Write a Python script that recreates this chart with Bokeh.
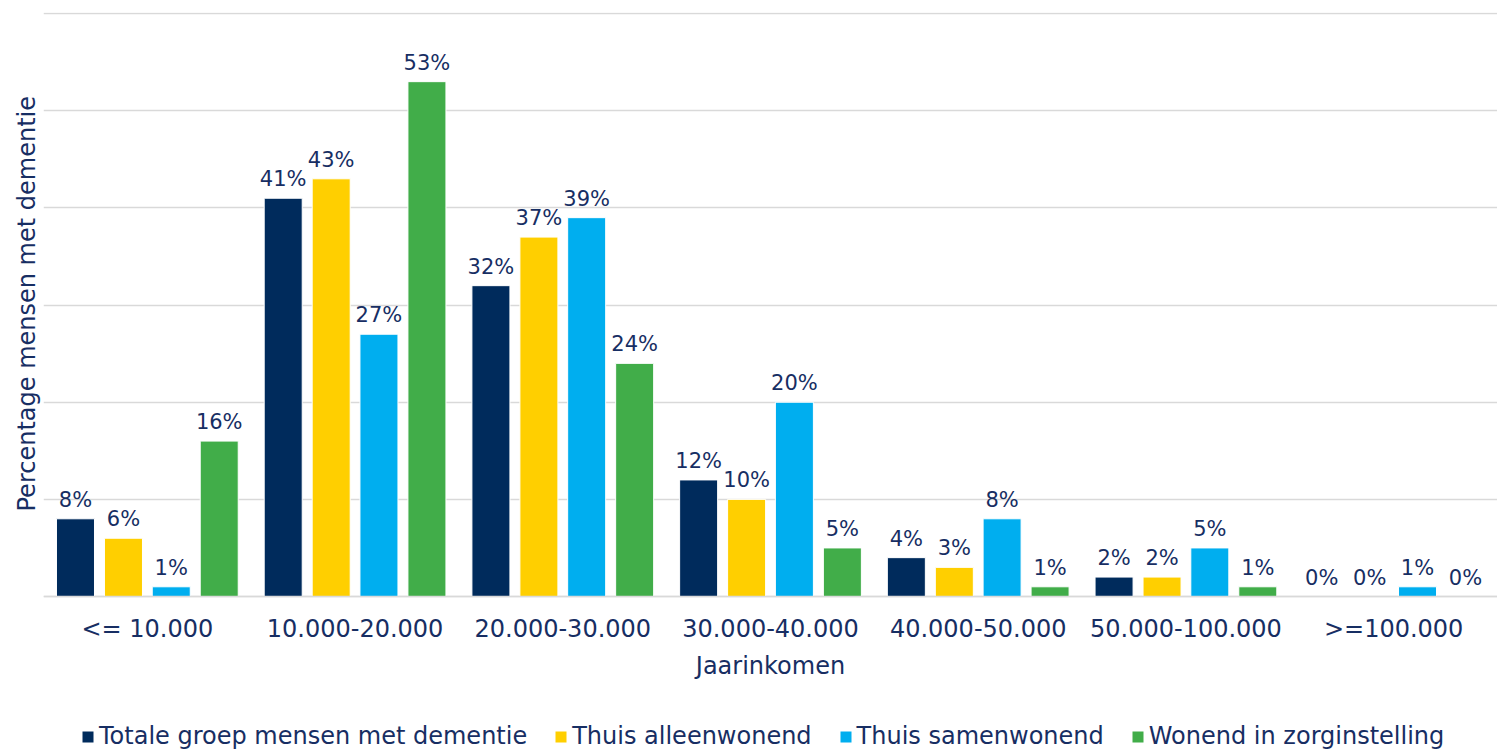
from bokeh.plotting import figure
from bokeh.models import ColumnDataSource, FactorRange, Range1d, Legend, LegendItem, LabelSet, Title
from bokeh.transform import dodge
from bokeh.core.properties import value
from bokeh.embed import file_html
from bokeh.resources import INLINE

categories = ["<= 10.000", "10.000-20.000", "20.000-30.000", "30.000-40.000",
              "40.000-50.000", "50.000-100.000", ">=100.000"]
series_names = ["Totale groep mensen met dementie", "Thuis alleenwonend",
                "Thuis samenwonend", "Wonend in zorginstelling"]
totaal = [8, 41, 32, 12, 4, 2, 0]
alleen = [6, 43, 37, 10, 3, 2, 0]
samen = [1, 27, 39, 20, 8, 5, 1]
zorg = [16, 53, 24, 5, 1, 1, 0]
colors = ["#002B5C", "#FFCF00", "#00AEEF", "#41AD49"]
offsets = [-0.346, -0.115, 0.115, 0.346]
grid_ticks = [0, 10, 20, 30, 40, 50, 60]

FONT = "DejaVu Sans"
TXT = "#172E63"

p = figure(x_range=FactorRange(*categories), y_range=Range1d(-15.75, 60.12),
           width=1497, height=749, output_backend="svg", toolbar_location=None,
           min_border_left=43, min_border_right=0, min_border_top=12, min_border_bottom=0)

series = [totaal, alleen, samen, zorg]
items = []
for name, vals, col, off in zip(series_names, series, colors, offsets):
    src = ColumnDataSource(dict(cat=categories, val=vals,
                                lab=[f"{v}%" for v in vals]))
    r = p.vbar(x=dodge("cat", off, range=p.x_range), top="val", width=0.183,
               source=src, fill_color=col, line_color="white", line_width=1)
    items.append(LegendItem(label=name, renderers=[r]))
    labels = LabelSet(x=dodge("cat", off, range=p.x_range), y="val", text="lab",
                      source=src, text_align="center", text_baseline="bottom",
                      y_offset=7, text_font=value(FONT), text_font_size="21px",
                      text_color=TXT)
    p.add_layout(labels)

p.outline_line_color = None
p.xgrid.grid_line_color = None
p.ygrid.ticker = grid_ticks
p.ygrid.grid_line_color = "#D9D9D9"
p.ygrid.grid_line_width = 1.5
p.yaxis.visible = False

ytitle = Title(text="Percentage mensen met dementie", align="left", offset=238,
               text_font=FONT, text_font_size="24px", text_font_style="normal",
               text_color=TXT, standoff=6)
p.add_layout(ytitle, "left")

p.xaxis.fixed_location = 0
p.xaxis.axis_line_color = "#D9D9D9"
p.xaxis.axis_line_width = 1.5
p.xaxis.major_tick_line_color = None
p.xaxis.minor_tick_line_color = None
p.xaxis.major_label_standoff = 12
p.xaxis.major_label_text_font = FONT
p.xaxis.major_label_text_font_size = "24px"
p.xaxis.major_label_text_color = TXT
p.xaxis.axis_label = "Jaarinkomen"
p.xaxis.axis_label_text_font = FONT
p.xaxis.axis_label_text_font_size = "24px"
p.xaxis.axis_label_text_font_style = "normal"
p.xaxis.axis_label_text_color = TXT
p.xaxis.axis_label_standoff = 6

legend = Legend(items=items, orientation="horizontal", location=(37, -1),
                label_text_font=FONT, label_text_font_size="24px", label_text_color=TXT,
                glyph_width=15, glyph_height=15, label_standoff=4, spacing=26,
                border_line_color=None, background_fill_alpha=0, padding=0, margin=0)
p.add_layout(legend, "center")

open("out.html", "w").write(file_html(p, INLINE))
